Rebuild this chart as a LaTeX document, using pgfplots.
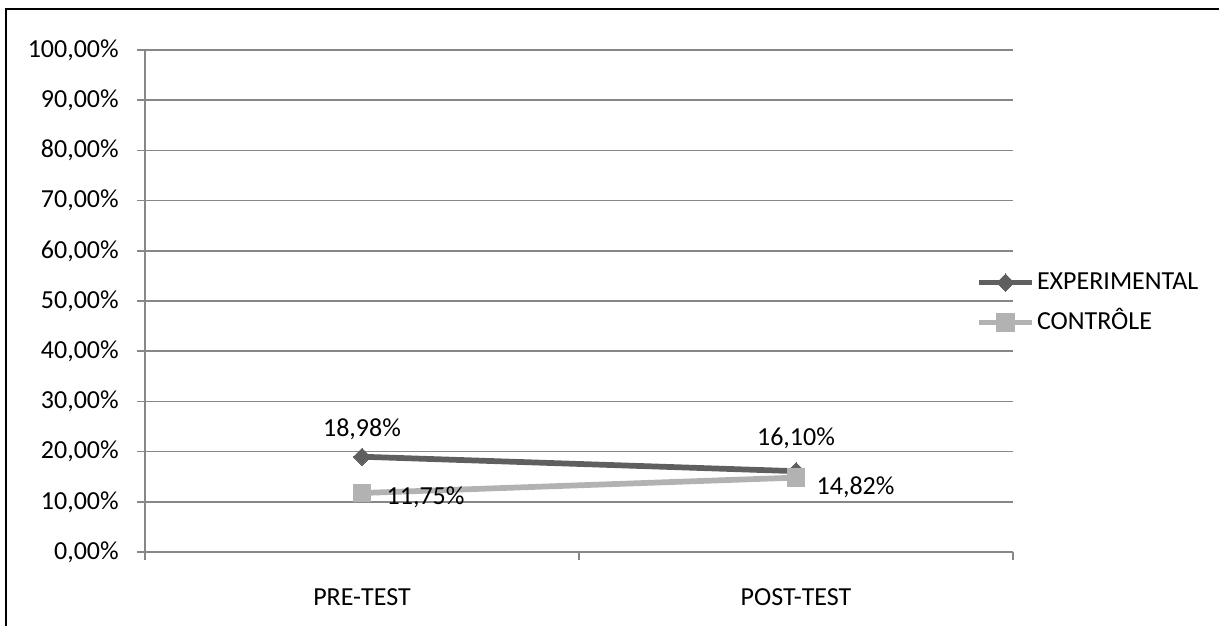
\documentclass[border=0pt]{standalone}
\usepackage{pgfplots}
\pgfplotsset{compat=1.18}
\usepackage{fontspec}
\setmainfont{Carlito}
\definecolor{expc}{HTML}{5F5F5F}
\definecolor{ctlc}{HTML}{B2B2B2}
\definecolor{gridc}{HTML}{878787}
\begin{document}
\fontsize{19.5}{23}\selectfont
\begin{tikzpicture}
\useasboundingbox (0pt,0pt) rectangle (914.25pt,469.5pt);
\draw[line width=1.6pt, black] (4.5pt,0pt) -- (4.5pt,462.75pt) -- (914.25pt,462.75pt);
\begin{axis}[
  at={(108.75pt,55.5pt)}, anchor=south west,
  scale only axis, width=651pt, height=376.5pt,
  xmin=-0.5, xmax=1.5, ymin=0, ymax=100,
  axis x line*=bottom, axis y line*=left,
  axis line style={gridc, line width=1.1pt},
  xtick={0,1}, xticklabels={PRE-TEST,POST-TEST},
  minor xtick={-0.5,0.5,1.5},
  major x tick style={draw=none},
  minor x tick style={gridc, line width=1.1pt},
  minor tick length=6pt, major tick length=6pt,
  tick align=outside,
  ytick={0,10,...,100},
  ymajorgrids, grid style={gridc, line width=1.1pt},
  major y tick style={gridc, line width=1.1pt},
  /pgf/number format/assume math mode=true,
  yticklabel={\pgfmathprintnumber[fixed,fixed zerofill,precision=2,use comma]{\tick}\%},
  yticklabel style={xshift=-7pt},
  xticklabel style={yshift=-15pt},
  tick label style={black},
  legend style={at={(0.957,0.497)}, anchor=west, draw=none, fill=none, inner sep=0pt,
    row sep=9pt, nodes={inner sep=1.5pt, text height=14pt, text depth=4pt}},
  legend cell align=left,
  legend image code/.code={\draw[mark repeat=2,mark phase=2,#1] plot coordinates {(0pt,0pt)(20pt,0pt)(40pt,0pt)};},
  point meta=y,
  nodes near coords={\pgfmathprintnumber[fixed,fixed zerofill,precision=2,use comma]{\pgfplotspointmeta}\%},
  visualization depends on={\thisrow{dx} \as \dx},
  visualization depends on={\thisrow{dy} \as \dy},
  clip=false,
]
\addplot[expc, line width=4.3pt, mark=square*, mark size=4.6pt,
  mark options={rotate=45, solid, line width=0pt},
  nodes near coords style={text=black, anchor=south, xshift=\dx pt, yshift=\dy pt}]
  table {
x y dx dy
0 18.98 0 6
1 16.10 0 10.5
};
\addlegendentry{EXPERIMENTAL}
\addplot[ctlc, line width=4.3pt, mark=square*, mark size=6.5pt,
  mark options={solid, line width=0pt},
  nodes near coords style={text=black, anchor=west, xshift=\dx pt, yshift=\dy pt}]
  table {
x y dx dy
0 11.75 12 -3
1 14.82 9 -7
};
\addlegendentry{CONTRÔLE}
\end{axis}
\end{tikzpicture}
\end{document}
